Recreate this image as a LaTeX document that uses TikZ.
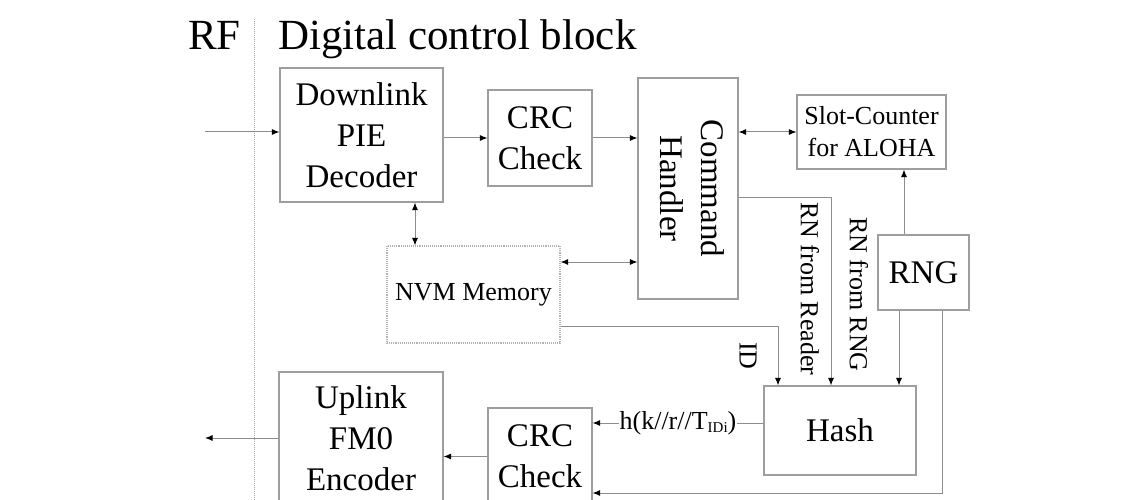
\documentclass[tikz,border=0pt]{standalone}
\usepackage{fontspec}
\setmainfont{Liberation Serif}
\usetikzlibrary{arrows.meta}
\begin{document}
\begin{tikzpicture}[x=1pt,y=-1pt,
  box/.style={draw=black!38,line width=1.1pt,inner sep=0pt,align=center,
    font=\fontsize{33}{41}\selectfont,text=black},
  sbox/.style={box,font=\fontsize{26}{32}\selectfont},
  wire/.style={draw=black!45,line width=1pt},
  arr/.style={wire,-{Latex[length=7.5pt,width=6pt,color=black]}},
  darr/.style={wire,{Latex[length=7.5pt,width=6pt,color=black]}-{Latex[length=7.5pt,width=6pt,color=black]}},
  lbl/.style={font=\fontsize{26}{30}\selectfont,text=black,inner sep=0pt},
  ttl/.style={font=\fontsize{43}{50}\selectfont,text=black,inner sep=0pt,anchor=base west}]
\useasboundingbox (0,0) rectangle (1143,500);
% titles
\node[ttl] (rf) at (188,50) {RF};
\node[ttl] (dcb) at (278,50) {Digital control block};
\draw[black!35,densely dotted,line width=1pt] (254,19) -- (254,500);
% boxes
\node[box,minimum width=163pt,minimum height=134pt] (dl) at (361.5,135) {Downlink\\PIE\\Decoder};
\node[box,minimum width=104pt,minimum height=96pt] (crc1) at (540,138) {CRC\\Check};
\node[box,minimum width=100pt,minimum height=221pt] (cmd) at (688,188.5) {};
\node[box,rotate=-90,draw=none] (cmdt) at ([xshift=4pt]cmd.center) {Command\\Handler};
\node[sbox,minimum width=149pt,minimum height=74pt] (slot) at (871.5,132) {Slot-Counter\\for ALOHA};
\node[sbox,draw=black!30,densely dotted,minimum width=173pt,minimum height=97pt] (nvm) at (473.5,294.5) {NVM Memory};
\node[box,minimum width=91pt,minimum height=75pt] (rng) at (923.5,272.5) {RNG};
\node[box,minimum width=152pt,minimum height=89pt] (hash) at (840,430.5) {Hash};
\node[box,minimum width=164pt,minimum height=132pt] (up) at (361,438) {Uplink\\FM0\\Encoder};
\node[box,minimum width=104pt,minimum height=97pt] (crc2) at (540,456.5) {CRC\\Check};
% helper coordinates
\coordinate (rfin) at (205,132);
\coordinate (rfout) at (205,438);
\coordinate (xa) at (415,0);
\coordinate (ya) at (0,262);
\coordinate (xr) at (831,197);
\coordinate (xi) at (778,326);
\coordinate (xs) at (904,0);
\coordinate (xh) at (899,0);
\coordinate (xb) at (942,493);
\coordinate (yh) at (0,423);
% connectors
\draw[arr] (rfin) -- (rfin -| dl.west);
\draw[arr] (dl.east |- crc1.west) -- (crc1.west);
\draw[arr] (crc1.east) -- (crc1.east -| cmd.west);
\draw[darr] (slot.west -| cmd.east) -- (slot.west);
\draw[darr] (dl.south -| xa) -- (nvm.north -| xa);
\draw[darr] (nvm.east |- ya) -- (cmd.west |- ya);
\draw[arr] (cmd.east |- xr) -| (hash.north -| xr);
\draw[arr] (nvm.east |- xi) -| (hash.north -| xi);
\draw[arr] (rng.north -| xs) -- (slot.south -| xs);
\draw[arr] (rng.south -| xh) -- (hash.north -| xh);
\draw[arr] (rng.south -| xb) |- (crc2.east |- xb);
\draw[arr] (hash.west |- yh) -- node[lbl,fill=white,inner xsep=1pt] (hl) {h(k//r//T{\fontsize{15}{15}\selectfont\raisebox{-3pt}{IDi}})} (crc2.east |- yh);
\draw[arr] (crc2.west) -- (crc2.west -| up.east);
\draw[arr] (up.west |- rfout) -- (rfout);
% rotated labels
\node[lbl,rotate=-90,anchor=west] (l1) at (810,202) {RN from Reader};
\node[lbl,rotate=-90,anchor=west] (l2) at (859,217) {RN from RNG};
\node[lbl,rotate=-90,anchor=west] (l3) at (748,342) {ID};
\end{tikzpicture}
\end{document}
